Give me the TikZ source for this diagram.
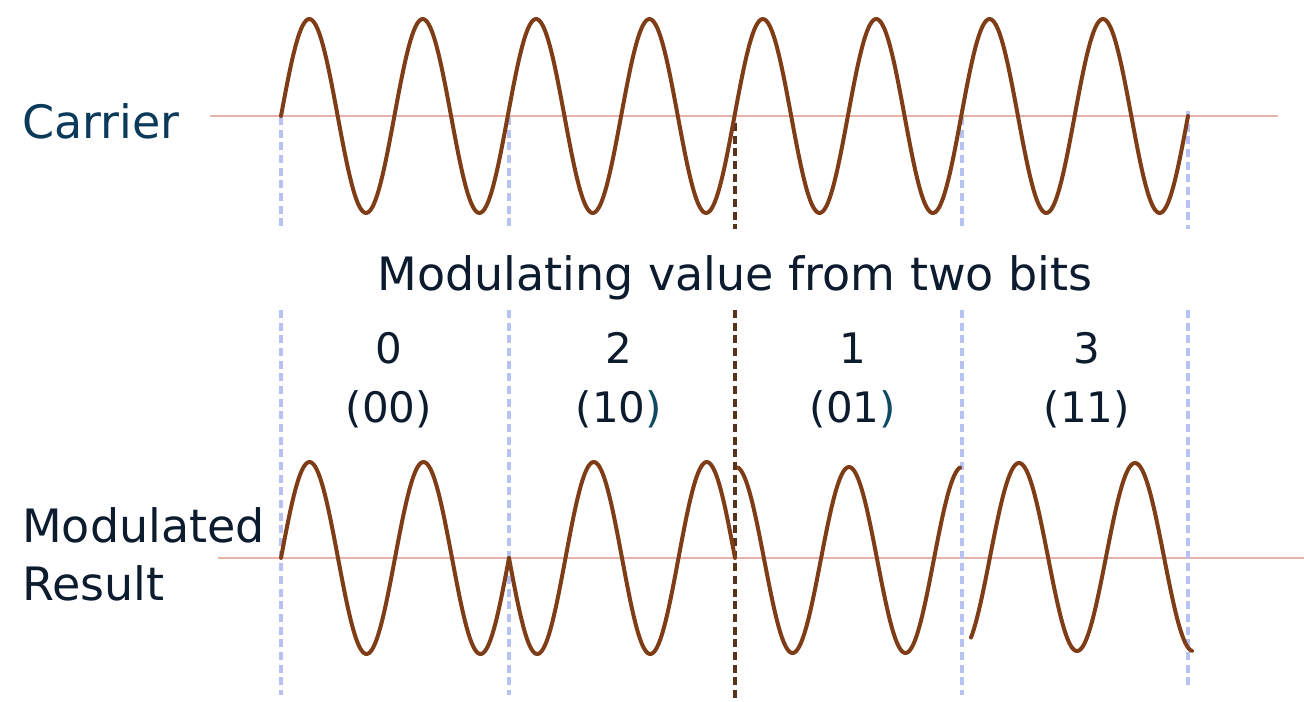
\documentclass[tikz,border=0pt]{standalone}
\usepackage{fontspec}
\setmainfont{DejaVu Sans}
\definecolor{wave}{HTML}{7E3D17}
\definecolor{baseln}{HTML}{E6B2AA}
\definecolor{lavdash}{HTML}{B8C2F2}
\definecolor{darkdash}{HTML}{55331F}
\definecolor{carriertxt}{HTML}{0B3A5A}
\definecolor{maintxt}{HTML}{0C1B2E}
\definecolor{tealparen}{HTML}{0F4A60}
\tikzset{
  wavestyle/.style={draw=wave, line width=3pt, line cap=round, line join=round},
  baseline/.style={draw=baseln, line width=1.1pt},
  lightdash/.style={draw=lavdash, line width=2.6pt, dash pattern=on 6pt off 3.5pt},
  darkdashed/.style={draw=darkdash, line width=2.6pt, dash pattern=on 6pt off 3.5pt},
  bigtxt/.style={inner sep=0pt, text=maintxt, font=\fontsize{34.5pt}{41pt}\selectfont},
  numtxt/.style={inner sep=0pt, text=maintxt, font=\fontsize{31.5pt}{38pt}\selectfont, anchor=base}
}
\begin{document}
\begin{tikzpicture}[x=0.75pt, y=-0.75pt]
\useasboundingbox (0,0) rectangle (1304,701);
% baselines
\coordinate (cb1) at (210,116); \coordinate (cb2) at (1278,116);
\coordinate (mb1) at (218,558); \coordinate (mb2) at (1304,558);
\draw[baseline] (cb1) -- (cb2);
\draw[baseline] (mb1) -- (mb2);
% vertical dashed separators
\foreach \xx in {281,509,962} {
  \draw[lightdash] (\xx,117) -- (\xx,229);
  \draw[lightdash] (\xx,310) -- (\xx,695);
}
\draw[lightdash] (1188,111) -- (1188,229);
\draw[lightdash] (1188,310) -- (1188,690);
\draw[darkdashed] (735,123) -- (735,229);
\draw[darkdashed] (735,310) -- (735,700);
% carrier
\draw[wavestyle] plot[domain=281:1188, samples=500, smooth] (\x, {116 - 97*sin(3.175303*(\x-281))});
% modulated result
\draw[wavestyle] plot[domain=281:509, samples=160, smooth] (\x, {558 - 96*sin(3.157895*(\x-281))});
\draw[wavestyle] plot[domain=509:735, samples=160, smooth] (\x, {558 + 96*sin(3.185841*(\x-509))});
\draw[wavestyle] plot[domain=738:960, samples=160, smooth] (\x, {560 - 93*cos(3.185841*(\x-736))});
\draw[wavestyle] plot[domain=971:1192, samples=160, smooth] (\x, {557 + 94*cos(3.103448*(\x-961))});
% labels
\node[bigtxt, text=carriertxt, anchor=base west] (carrier) at (22,138) {Carrier};
\node[bigtxt, anchor=base west] (modulated) at (22,542) {Modulated};
\node[bigtxt, anchor=base west] (result) at (22,600) {Result};
\node[bigtxt, anchor=base] (title) at (735,290) {Modulating value from two bits};
\node[numtxt] (n0) at (389,363) {0};
\node[numtxt] (b0) at (389,422) {(00)};
\node[numtxt] (n2) at (619,363) {2};
\node[numtxt] (b2) at (619,422) {(10\textcolor{tealparen}{)}};
\node[numtxt] (n1) at (853,363) {1};
\node[numtxt] (b1) at (853,422) {(01\textcolor{tealparen}{)}};
\node[numtxt] (n3) at (1087,363) {3};
\node[numtxt] (b3) at (1087,422) {(11)};
\end{tikzpicture}
\end{document}
